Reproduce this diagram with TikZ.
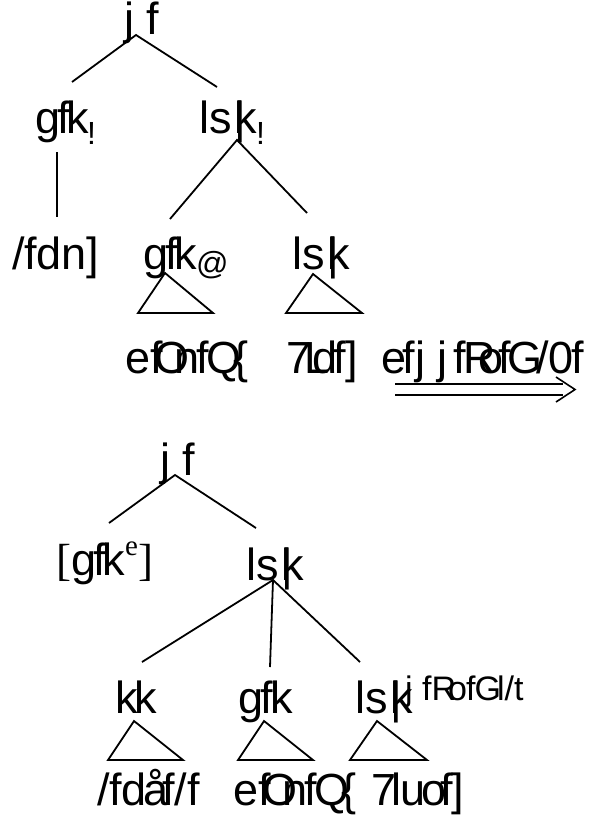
\documentclass[tikz,border=0pt]{standalone}
\usepackage{fontspec}
\setmainfont{Liberation Sans}
\newfontfamily\timesface{Liberation Serif}
% recurring words with their tight letter fitting
\newcommand\lsk{ls\kern2.5pt\rlap{|}k}
\newcommand\gfk{g\kern-3pt f\kern-3pt k}
\newcommand\bhai{ef\kern-9pt O\kern-15pt n\kern-3pt f\kern-2pt Q\kern-8pt\{}

\begin{document}
\begin{tikzpicture}[x=1pt,y=-1pt,
  word/.style={inner sep=0pt,anchor=base west,font=\fontsize{45}{54}\selectfont},
  idx/.style={inner sep=0pt,anchor=base west,font=\fontsize{32}{38}\selectfont},
  tag/.style={inner sep=0pt,anchor=base west,font=\fontsize{34}{40}\selectfont},
  branch/.style={line width=1.8pt},
  roof/.style={line width=1.8pt,line join=miter},
  arrowline/.style={line width=1.6pt}]
\useasboundingbox (0,0) rectangle (592,816);

% ---------- upper tree ----------
\node[word] (vf) at (124,35) {j f};
\node[word] (np1) at (35,133) {\gfk};
\node[idx] (np1i) at (87,144) {!};
\node[word] (vp1) at (199,133) {\lsk};
\node[idx] (vp1i) at (256,144) {!};

\coordinate (vf-j) at (136,35);
\coordinate (np1-t) at (72,82);
\coordinate (vp1-t) at (217,87);
\draw[branch] (np1-t) -- (vf-j) -- (vp1-t);

\coordinate (np1-b) at (57,152);
\coordinate (ram-t) at (57,217);
\draw[branch] (np1-b) -- (ram-t);

\node[word] (ram) at (12,269) {/f\kern-1pt dn]};
\node[word] (np2) at (143,269) {\gfk};
\node[idx] (np2i) at (196,274) {@};
\node[word] (v1) at (292,269) {\lsk};

\coordinate (vp1-j) at (237,140);
\coordinate (np2-t) at (170,219);
\coordinate (v1-t) at (307,213);
\draw[branch] (np2-t) -- (vp1-j) -- (v1-t);

\coordinate (np2-r) at (165,273);
\coordinate (v1-r) at (313,274);
\draw[roof] (np2-r) -- ++(-27,40) -- ++(75,0) -- cycle;
\draw[roof] (v1-r) -- ++(-27,39) -- ++(76,0) -- cycle;

\node[word] (bhai1) at (125.5,373) {\bhai};
\node[word] (thulo1) at (286,373) {7\kern-7pt L\kern-17pt d\kern-4pt f]};
\node[word] (rule) at (381.5,373) {e\kern-4pt f\kern0pt j\kern12pt j\kern6pt f\kern-2pt R\kern-18pt o\kern-5pt f\kern-3pt G\kern-6pt /\kern-1pt 0\kern-2pt f};

% ---------- derivation arrow ----------
\coordinate (ar-s1) at (395,384);
\coordinate (ar-e1) at (563,384);
\coordinate (ar-s2) at (395,395);
\coordinate (ar-e2) at (563,395);
\coordinate (ar-h1) at (556,377);
\coordinate (ar-tip) at (575,389.5);
\coordinate (ar-h2) at (556,402);
\draw[arrowline] (ar-s1) -- (ar-e1);
\draw[arrowline] (ar-s2) -- (ar-e2);
\draw[arrowline] (ar-h1) -- (ar-tip) -- (ar-h2);

% ---------- lower tree ----------
\node[word] (vf2) at (160,475) {j f};
\node[word] (npe) at (56,575) {{\timesface[}\gfk\raisebox{20pt}{\fontsize{29}{30}\timesface e}{\timesface]}};
\node[word] (vp2) at (246,580) {\lsk};

\coordinate (vf2-j) at (175,475);
\coordinate (npe-t) at (109,523);
\coordinate (vp2-t) at (256,528);
\draw[branch] (npe-t) -- (vf2-j) -- (vp2-t);

\node[word] (pp) at (115,713) {k\kern-3pt k};
\node[word] (np3) at (238.5,713) {\gfk};
\node[word] (vp3) at (355,713) {\lsk};
\node[tag] (vtag) at (405,700) {j fR\kern-8pt o\kern-1pt f\kern-1pt G\kern-4pt l/t};

\coordinate (vp2-j) at (273,580);
\coordinate (pp-t) at (142,662);
\coordinate (np3-t) at (270,667);
\coordinate (vp3-t) at (360,662);
\draw[branch] (pp-t) -- (vp2-j) -- (vp3-t);
\draw[branch] (vp2-j) -- (np3-t);

\coordinate (pp-r) at (134,721);
\coordinate (np3-r) at (264,721);
\coordinate (vp3-r) at (377,721);
\draw[roof] (pp-r) -- ++(-26,39) -- ++(75,0) -- cycle;
\draw[roof] (np3-r) -- ++(-26,39) -- ++(75,0) -- cycle;
\draw[roof] (vp3-r) -- ++(-27,39) -- ++(77,0) -- cycle;

\node[word] (ram2) at (97,805) {/f\kern-1pt d\kern-3pt å\kern-6pt f/f};
\node[word] (bhai2) at (233.5,805) {\bhai};
\node[word] (thulo2) at (371,805) {7\kern-5pt l\kern-1pt u\kern-4pt o\kern-6pt f\kern-1pt]};
\end{tikzpicture}
\end{document}
